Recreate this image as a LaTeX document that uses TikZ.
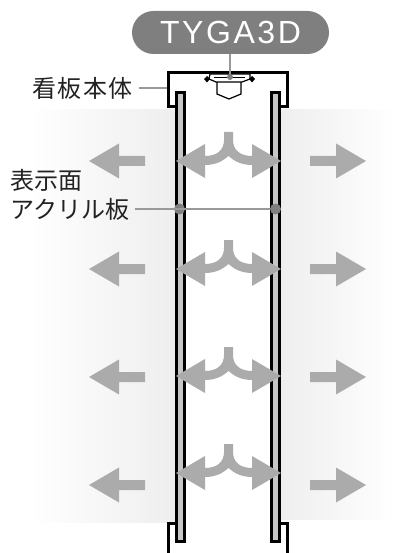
\documentclass[tikz,border=0pt]{standalone}
\usepackage{fontspec}
\setmainfont{Liberation Sans}
\newfontfamily\jpfont{Noto Sans CJK JP}
\newfontfamily\jpwide[LetterSpace=6]{Noto Sans CJK JP}
\newfontfamily\brandfont[LetterSpace=8]{Liberation Sans}
\definecolor{arrowgray}{HTML}{ABABAB}
\definecolor{pillgray}{HTML}{7F7F7F}
\definecolor{leadgray}{HTML}{999999}
\definecolor{panelgray}{HTML}{C6C6C6}
\definecolor{glow}{HTML}{EEEEEE}
\definecolor{inkgray}{HTML}{222222}
\tikzset{
  frameline/.style={draw=black,line width=3pt,line join=miter},
  panelbox/.style={draw=black,fill=panelgray,line width=3pt},
  leadline/.style={draw=leadgray,line width=1.1pt},
  flow/.style={fill=arrowgray,draw=none},
  dotmark/.style={circle,fill=pillgray,minimum size=11pt,inner sep=0pt},
  jplabel/.style={anchor=west,inner sep=0pt,text=inkgray,font=\fontsize{24}{24}\selectfont\jpfont},
  lampline/.style={draw=black,line width=1.2pt,fill=white}
}
\newcommand{\leftflow}[1]{\fill[flow] (89,#1) -- (119,#1-17.5) -- (119,#1-5) -- (145,#1-5) -- (145,#1+5) -- (119,#1+5) -- (119,#1+17.5) -- cycle;}
\newcommand{\rightflow}[1]{\fill[flow] (366,#1) -- (336,#1-17.5) -- (336,#1-5) -- (310,#1-5) -- (310,#1+5) -- (336,#1+5) -- (336,#1+17.5) -- cycle;}
\newcommand{\splitflow}[1]{\fill[flow] (224,#1-29) -- (233,#1-29) -- (233,#1-21)
  .. controls (233,#1-11) and (240,#1-5) .. (252,#1-5) -- (252,#1-17) -- (281,#1) -- (252,#1+17) -- (252,#1+4)
  .. controls (240,#1+4) and (233,#1-1) .. (228.5,#1-5)
  .. controls (224,#1-1) and (217,#1+4) .. (205,#1+4) -- (205,#1+17) -- (176,#1) -- (205,#1-17) -- (205,#1-5)
  .. controls (217,#1-5) and (224,#1-11) .. (224,#1-21) -- cycle;}
\begin{document}
\begin{tikzpicture}[x=1pt,y=-1pt]
\useasboundingbox (0,0) rectangle (408,553);
% glow on both sides
\shade[left color=white,right color=glow] (30,110) rectangle (176,522);
\shade[left color=glow,right color=white] (280,110) rectangle (395,519);
% panels
\path[panelbox] (176,93) rectangle (184,541);
\path[panelbox] (271,93) rectangle (279.5,541);
% frame
\path[frameline] (176,107) -- (168,107) -- (168,73) -- (287,73) -- (287,107) -- (279.5,107);
\path[frameline] (176,523) -- (168,523) -- (168,553);
\path[frameline] (279.5,523) -- (287,523) -- (287,553);
% lamp
\path[lampline] (217,82) -- (217,94) -- (229,99) -- (241,94) -- (241,82);
\path[lampline] (210,74) -- (250,74) -- (250,79) -- (242,82) -- (216,82) -- (209,79) -- cycle;
\draw[line width=1pt] (214,78) -- (245,78);
\fill (207,76) -- (210,79) -- (207,82.5) -- (204,79) -- cycle;
\fill (252,76) -- (255,79) -- (252,82.5) -- (249,79) -- cycle;
% flows
\foreach \r in {161,269,377,485}{\leftflow{\r}\rightflow{\r}}
\foreach \r in {161,269,376,473}{\splitflow{\r}}
% labels and leaders
\node[rounded corners=21.5pt,fill=pillgray,minimum width=197pt,minimum height=43pt,inner sep=0pt,text=white,font=\fontsize{32}{32}\selectfont\brandfont] (brand) at (230.5,32.5) {TYGA3D};
\node[circle,fill=pillgray,minimum size=6pt,inner sep=0pt] (lampdot) at (230,77) {};
\draw[leadline] (brand.south -| lampdot) -- (lampdot);
\node[jplabel,font=\fontsize{24}{24}\selectfont\jpwide] (body) at (32,88) {看板本体};
\coordinate (bodyedge) at (167,88);
\draw[leadline] ([xshift=6pt]body.east) -- (bodyedge);
\node[jplabel] (face) at (10,180) {表示面};
\node[jplabel] (acryl) at (10,209) {アクリル板};
\node[dotmark] (dotL) at (179.5,209) {};
\node[dotmark] (dotR) at (275.5,209) {};
\draw[leadline] ([xshift=6pt]acryl.east) -- (dotR);
\end{tikzpicture}
\end{document}
